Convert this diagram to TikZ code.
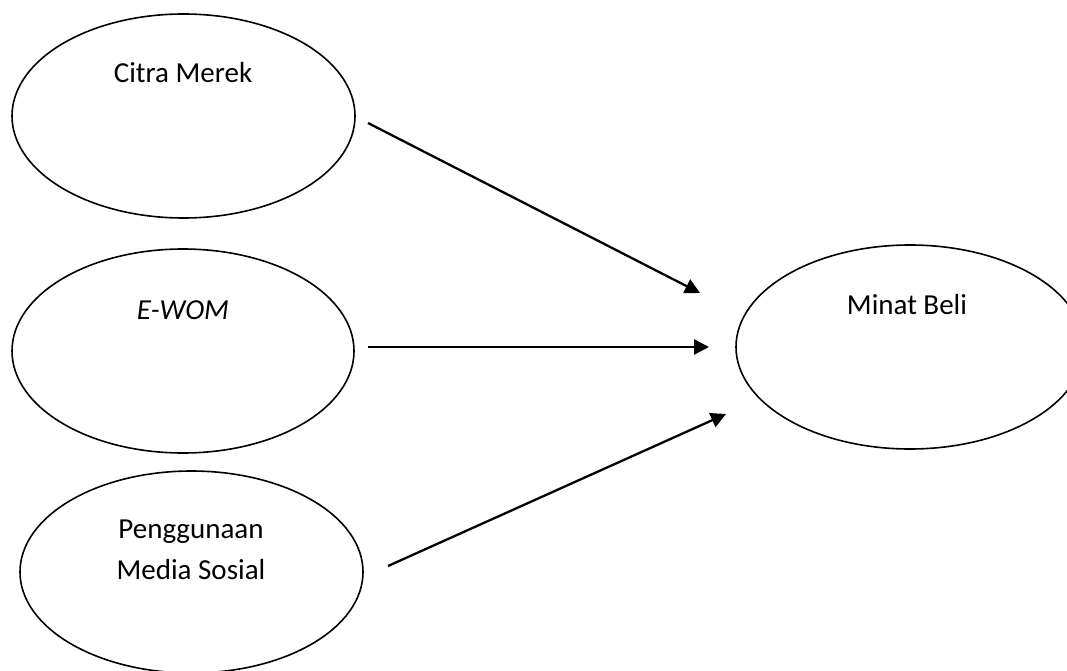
\documentclass[tikz,border=0pt]{standalone}
\usepackage{fontspec}
\setmainfont{Carlito}
\usetikzlibrary{arrows.meta,shapes.geometric}
\begin{document}
\begin{tikzpicture}[x=1pt,y=-1pt,
  ell/.style={draw, ellipse, line width=1.6pt, inner sep=0pt},
  lbl/.style={font=\fontsize{29}{41}\selectfont, align=center, inner sep=0pt},
  conn/.style={line width=2.3pt, -{Triangle[length=15pt,width=15pt]}}]
\useasboundingbox (0,0) rectangle (1067,671);
\clip (0,0) rectangle (1067,671);
\node[ell, minimum width=343pt, minimum height=204pt] (cm) at (183.5,116) {};
\node[ell, minimum width=342pt, minimum height=204pt] (ew) at (183,351) {};
\node[ell, minimum width=343pt, minimum height=202pt] (pm) at (191.5,572) {};
\node[ell, minimum width=348pt, minimum height=204pt] (mb) at (910,347) {};
\node[lbl] (cmt) at (183,73) {Citra Merek};
\node[lbl] (ewt) at (183,310) {\itshape E-WOM};
\node[lbl] (pmt) at (191,550) {Penggunaan\\Media Sosial};
\node[lbl] (mbt) at (907,305) {Minat Beli};
\coordinate (s1) at (368,123);
\coordinate (e1) at (700,293);
\coordinate (s2) at (368,347);
\coordinate (e2) at (709,347);
\coordinate (s3) at (388,566);
\coordinate (e3) at (726,414);
\draw[conn] (s1) -- (e1);
\draw[conn] (s2) -- (e2);
\draw[conn] (s3) -- (e3);
\end{tikzpicture}
\end{document}
